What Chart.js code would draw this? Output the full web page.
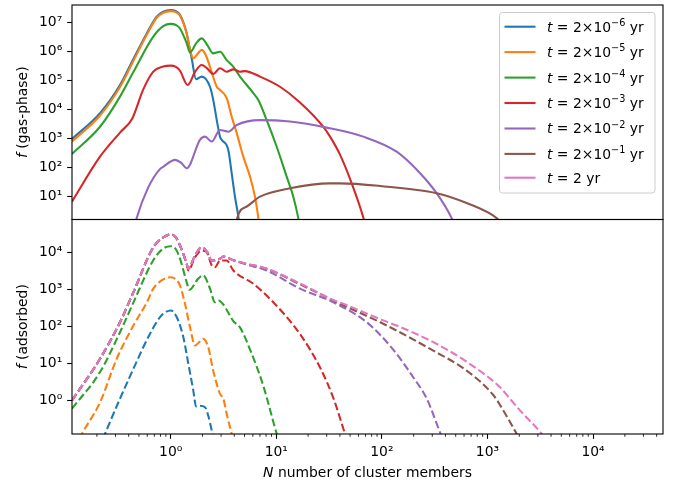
<!DOCTYPE html>
<html><head><meta charset="utf-8">
<script src="https://cdn.jsdelivr.net/npm/chart.js@4.4.0/dist/chart.umd.min.js"></script>
<style>html,body{margin:0;padding:0;background:#fff;}canvas{display:block;}</style>
</head><body>
<canvas id="c" width="673" height="483"></canvas>
<script>
// ---------- data: [N, f] pairs ----------
// gas phase (top panel)
const gasT6 = [[0.116,977],[0.214,7590],[0.331,70800],[0.443,5.62e5],[0.593,4.27e6],[0.736,1.62e7],[0.85,2.4e7],[1.0,2.75e7],[1.12,2.5e7],[1.225,1.86e7],[1.418,4.27e6],[1.50,1.48e6],[1.58,5.9e5],[1.738,1.12e5],[1.966,1.38e5],[2.355,6.17e4],[2.53,2.14e4],[2.73,4370],[2.93,1175],[3.04,912],[3.51,407],[3.78,64.6],[4.06,10],[4.37,2.04],[4.55,0.6]];
const gasT5 = [[0.116,794],[0.214,6310],[0.331,60300],[0.443,4.8e5],[0.593,3.8e6],[0.736,1.48e7],[0.85,2.2e7],[1.0,2.51e7],[1.12,2.3e7],[1.225,1.74e7],[1.418,4.17e6],[1.50,1.58e6],[1.637,5.89e5],[1.80,8.5e5],[1.966,1.15e6],[2.15,7.5e5],[2.355,3.02e5],[2.73,6.17e4],[2.93,4.79e4],[3.39,2.5e4],[3.78,5750],[4.22,1550],[4.87,240],[5.64,49],[6.28,10],[6.76,1.82],[7.0,0.6]];
const gasT4 = [[0.116,295],[0.214,2570],[0.331,28200],[0.443,2.0e5],[0.684,3.31e6],[0.85,7.6e6],[1.0,9.12e6],[1.12,8.3e6],[1.225,6.31e6],[1.418,1.95e6],[1.523,9.33e5],[1.75,2.0e6],[1.966,2.88e6],[2.2,1.8e6],[2.53,8.71e5],[2.93,1.0e6],[3.39,5.13e5],[3.92,3.0e5],[4.53,1.38e5],[6.06,3.72e4],[6.76,2.14e4],[8.11,4370],[10.09,525],[12.54,49],[14.49,10],[16.16,1.82],[17.0,0.6]];
const gasT3 = [[0.116,6.76],[0.214,240],[0.331,1620],[0.433,5000],[0.55,5.0e4],[0.684,2.04e5],[0.85,3.1e5],[1.0,3.31e5],[1.12,3.0e5],[1.225,2.2e5],[1.449,7.08e4],[1.70,2.0e5],[1.966,3.47e5],[2.2,2.7e5],[2.53,1.7e5],[2.93,2.69e5],[3.39,2.04e5],[3.92,2.45e5],[4.53,2.04e5],[5.05,2.14e5],[7.01,1.38e5],[10.84,6.17e4],[16.76,1.78e4],[27.9,2570],[32.3,1175],[40.1,282],[51.8,28.8],[66.7,1.9],[72,0.6]];
const gasT2 = [[0.45,0.79],[0.476,1.82],[0.61,20],[0.79,89],[0.85,107],[1.10,186],[1.25,150],[1.418,95.5],[1.893,912],[2.113,1175],[2.445,794],[2.93,2000],[3.51,1740],[4.22,2950],[7.01,4370],[13.48,3890],[30.0,2400],[66.7,1175],[138,355],[230,64.6],[330,13.2],[458,1.82],[520,0.6]];
const gasT1 = [[4.15,0.6],[4.27,1.82],[5.25,4.57],[7.01,10],[13.48,19.5],[32.3,28.8],[40.1,28.8],[95.9,23.4],[330,13.2],[635,6.03],[1222,1.82],[1600,0.63]];
const gasT0 = [];
// adsorbed (bottom panel)
const adsT6 = [[0.228,0.089],[0.239,0.126],[0.443,7.24],[0.637,64.6],[0.792,182],[0.9,251],[1.0,275],[1.14,182],[1.316,52.5],[1.468,10],[1.637,1.86],[1.738,0.69],[1.893,0.72],[2.113,0.66],[2.27,0.389],[2.445,0.155],[2.53,0.1]];
const adsT5 = [[0.136,0.09],[0.143,0.12],[0.214,0.89],[0.308,13.5],[0.443,107],[0.593,447],[0.684,1070],[0.85,1900],[1.0,2190],[1.12,1900],[1.225,1290],[1.366,417],[1.523,97.7],[1.70,30.9],[2.036,46.8],[2.27,27.5],[2.53,6.31],[2.93,1.51],[3.15,1.12],[3.39,0.436],[3.78,0.126],[3.9,0.089]];
const adsT4 = [[0.116,0.60],[0.214,5.89],[0.331,70.8],[0.443,447],[0.684,6310],[0.85,1.3e4],[1.0,1.51e4],[1.12,1.25e4],[1.225,6920],[1.418,1585],[1.50,1000],[1.824,2000],[2.036,2450],[2.355,1070],[2.627,457],[2.825,513],[3.15,398],[3.92,141],[4.53,95.5],[5.64,24],[7.53,2.51],[10.09,0.126],[10.5,0.089]];
const adsT3 = [[0.116,1.0],[0.214,13.5],[0.331,132],[0.443,851],[0.684,1.41e4],[0.85,2.6e4],[1.0,3.16e4],[1.12,2.6e4],[1.225,1.58e4],[1.418,5010],[1.468,3310],[1.70,7600],[1.966,1.15e4],[2.19,1.05e4],[2.445,4570],[2.627,4070],[2.93,6170],[3.39,6170],[3.92,3310],[6.06,1445],[9.37,457],[16.76,63],[25.9,7.94],[34.7,1.17],[44.7,0.126],[48,0.068]];
const adsT2 = [[0.116,1.0],[0.214,13.5],[0.331,132],[0.443,851],[0.684,1.41e4],[0.85,2.6e4],[1.0,3.16e4],[1.12,2.6e4],[1.225,1.58e4],[1.418,5010],[1.468,3720],[1.70,8510],[1.966,1.41e4],[2.22,1.05e4],[2.445,6170],[2.93,6920],[3.15,7940],[3.92,6310],[5.25,4790],[8.11,3310],[16.76,1070],[34.7,457],[71.8,132],[128,24],[198,4.27],[266,1.12],[355,0.138],[380,0.083]];
const adsT1 = [[0.116,1.0],[0.214,13.5],[0.331,132],[0.443,851],[0.684,1.41e4],[0.85,2.6e4],[1.0,3.16e4],[1.12,2.6e4],[1.225,1.58e4],[1.418,5010],[1.468,3720],[1.70,8510],[1.966,1.41e4],[2.22,1.05e4],[2.445,6170],[2.93,6920],[3.15,7940],[3.92,6310],[5.25,5010],[8.11,3720],[16.76,1410],[43.1,380],[103,120],[307,22.4],[635,6.46],[1135,1.41],[1313,0.76],[1890,0.126],[2050,0.083]];
const adsT0 = [[0.116,1.0],[0.214,13.5],[0.331,132],[0.443,851],[0.684,1.41e4],[0.85,2.6e4],[1.0,3.16e4],[1.12,2.6e4],[1.225,1.58e4],[1.418,5010],[1.468,3720],[1.70,8510],[1.966,1.41e4],[2.22,1.05e4],[2.445,6170],[2.93,6920],[3.15,7940],[3.92,6310],[5.25,5010],[8.11,3720],[16.76,1480],[34.7,525],[43.1,417],[103,148],[138,107],[307,38],[635,11.2],[1313,2.29],[1633,1.12],[2032,0.54],[3260,0.126],[3500,0.095]];

const seriesLabels = ['t = 2×10^{−6} yr','t = 2×10^{−5} yr','t = 2×10^{−4} yr','t = 2×10^{−3} yr','t = 2×10^{−2} yr','t = 2×10^{−1} yr','t = 2 yr'];
const xTickValues = [1, 10, 100, 1000, 10000];
const xTickLabels = ['10⁰','10¹','10²','10³','10⁴'];
const yGasTickValues = [1e1,1e2,1e3,1e4,1e5,1e6,1e7];
const yGasTickLabels = ['10¹','10²','10³','10⁴','10⁵','10⁶','10⁷'];
const yAdsTickValues = [1,1e1,1e2,1e3,1e4];
const yAdsTickLabels = ['10⁰','10¹','10²','10³','10⁴'];
const xTitle = 'N number of cluster members';
const yGasTitle = 'f (gas-phase)';
const yAdsTitle = 'f (adsorbed)';

// ---------- styles ----------
const seriesColors = ['#1f77b4','#ff7f0e','#2ca02c','#d62728','#9467bd','#8c564b','#e377c2'];
const FONT = "'DejaVu Sans', sans-serif";
const FS = 13.9;

const gasSeries = [gasT6, gasT5, gasT4, gasT3, gasT2, gasT1, gasT0];
const adsSeries = [adsT6, adsT5, adsT4, adsT3, adsT2, adsT1, adsT0];
const datasets = [];
gasSeries.forEach((s, i) => datasets.push({
  label: seriesLabels[i] + ' (gas-phase)', data: s.map(([x, y]) => ({x, y})), yAxisID: 'yGas',
  borderColor: seriesColors[i], borderWidth: 2.08, pointRadius: 0, fill: false,
  cubicInterpolationMode: 'monotone', borderCapStyle: 'butt', borderJoinStyle: 'round', order: 100 - i
}));
adsSeries.forEach((s, i) => datasets.push({
  label: seriesLabels[i] + ' (adsorbed)', data: s.map(([x, y]) => ({x, y})), yAxisID: 'yAds',
  borderColor: seriesColors[i], borderWidth: 2.08, pointRadius: 0, fill: false, borderDash: [7.7, 3.3],
  cubicInterpolationMode: 'monotone', borderCapStyle: 'butt', borderJoinStyle: 'round', order: 50 - i
}));

function parseLabel(str) {
  const parts = [];
  if (str[0] === 't') { parts.push({t: 't', it: true}); str = str.slice(1); }
  const re = /\^\{([^}]*)\}/g; let last = 0, m;
  while ((m = re.exec(str))) {
    if (m.index > last) parts.push({t: str.slice(last, m.index)});
    parts.push({t: m[1], sup: true});
    last = re.lastIndex;
  }
  if (last < str.length) parts.push({t: str.slice(last)});
  return parts;
}
function fontFor(p, size) { return (p.it ? 'italic ' : '') + (p.sup ? size * 0.7 : size) + 'px ' + FONT; }
function measureParts(ctx, parts, size) {
  let w = 0; for (const p of parts) { ctx.font = fontFor(p, size); w += ctx.measureText(p.t).width; } return w;
}
function drawParts(ctx, parts, x, y, size) {
  let cx = x;
  for (const p of parts) {
    ctx.font = fontFor(p, size);
    ctx.fillText(p.t, cx, y + (p.sup ? -size * 0.42 : 0));
    cx += ctx.measureText(p.t).width;
  }
}
function italicFirst(str) { return [{t: str[0], it: true}, {t: str.slice(1)}]; }

const decor = {
  id: 'decor',
  afterDraw(chart) {
    const ctx = chart.ctx, a = chart.chartArea;
    const xs = chart.scales.x, yg = chart.scales.yGas, ya = chart.scales.yAds;
    ctx.save();
    // frames
    ctx.strokeStyle = '#000'; ctx.lineWidth = 1.1;
    ctx.strokeRect(a.left, yg.top, a.right - a.left, yg.bottom - yg.top);
    ctx.strokeRect(a.left, ya.top, a.right - a.left, ya.bottom - ya.top);
    // minor x ticks
    ctx.lineWidth = 0.83;
    for (let e = -1; e <= 4; e++) for (let k = 2; k <= 9; k++) {
      const v = k * Math.pow(10, e);
      if (v < xs.min || v > xs.max) continue;
      const p = xs.getPixelForValue(v);
      ctx.beginPath(); ctx.moveTo(p, a.bottom); ctx.lineTo(p, a.bottom + 2.78); ctx.stroke();
    }
    // titles
    ctx.fillStyle = '#000'; ctx.textBaseline = 'alphabetic'; ctx.textAlign = 'left';
    const xt = italicFirst(xTitle);
    drawParts(ctx, xt, (a.left + a.right) / 2 - measureParts(ctx, xt, FS) / 2, 476.5, FS);
    [[yGasTitle, yg], [yAdsTitle, ya]].forEach(([txt, sc]) => {
      const parts = italicFirst(txt);
      const w = measureParts(ctx, parts, FS);
      ctx.save();
      ctx.translate(27, (sc.top + sc.bottom) / 2);
      ctx.rotate(-Math.PI / 2);
      drawParts(ctx, parts, -w / 2, 0, FS);
      ctx.restore();
    });
    // legend
    const lx = 499.5, ly = 12.5, lw = 155.5, lh = 180.5, r = 3;
    ctx.beginPath();
    ctx.roundRect(lx, ly, lw, lh, r);
    ctx.fillStyle = 'rgba(255,255,255,0.8)'; ctx.fill();
    ctx.strokeStyle = '#cccccc'; ctx.lineWidth = 1; ctx.stroke();
    const rowY = [26.7, 52.1, 77.6, 103.0, 128.5, 153.9, 177.7];
    seriesLabels.forEach((lab, i) => {
      const y = rowY[i];
      ctx.strokeStyle = seriesColors[i]; ctx.lineWidth = 2.08; ctx.setLineDash([]);
      ctx.beginPath(); ctx.moveTo(504.5, y); ctx.lineTo(535.5, y); ctx.stroke();
      ctx.fillStyle = '#000';
      drawParts(ctx, parseLabel(lab), 547, y + 4.9, FS);
    });
    ctx.restore();
  }
};

const tickFont = {family: FONT, size: FS};
const gridOpts = {display: true, drawOnChartArea: false, drawTicks: true, tickLength: 4.86, tickWidth: 1.1, tickColor: '#000'};

new Chart(document.getElementById('c'), {
  type: 'line',
  data: {datasets},
  options: {
    responsive: false, animation: false, devicePixelRatio: 1,
    layout: {padding: {top: 5, right: 10, left: 0, bottom: 0}},
    plugins: {legend: {display: false}, tooltip: {enabled: false}},
    elements: {line: {tension: 0}},
    scales: {
      x: {
        type: 'logarithmic', position: 'bottom', min: 0.1162, max: 45950, bounds: 'data',
        afterBuildTicks: s => { s.ticks = xTickValues.map(v => ({value: v})); },
        afterFit: s => { s.height = 49; s.paddingLeft = 0; s.paddingRight = 0; },
        ticks: {autoSkip: false, maxRotation: 0, minRotation: 0, padding: 5, color: '#000', font: tickFont,
          callback: (v, i) => xTickLabels[i]},
        grid: gridOpts, border: {display: false}
      },
      yGas: {
        type: 'logarithmic', position: 'left', stack: 'panels', stackWeight: 1, weight: 1,
        min: 1.63, max: 4.07e7, bounds: 'data',
        afterBuildTicks: s => { s.ticks = yGasTickValues.map(v => ({value: v})); },
        afterFit: s => { s.width = 72; s.paddingTop = 0; s.paddingBottom = 0; },
        ticks: {autoSkip: false, padding: 4.86, color: '#000', font: tickFont,
          callback: (v, i) => yGasTickLabels[i]},
        grid: gridOpts, border: {display: false}
      },
      yAds: {
        type: 'logarithmic', position: 'left', stack: 'panels', stackWeight: 1, weight: 0,
        min: 0.124, max: 7.98e4, bounds: 'data',
        afterBuildTicks: s => { s.ticks = yAdsTickValues.map(v => ({value: v})); },
        afterFit: s => { s.width = 72; s.paddingTop = 0; s.paddingBottom = 0; },
        ticks: {autoSkip: false, padding: 4.86, color: '#000', font: tickFont,
          callback: (v, i) => yAdsTickLabels[i]},
        grid: gridOpts, border: {display: false}
      }
    }
  },
  plugins: [decor]
});
</script></body></html>
